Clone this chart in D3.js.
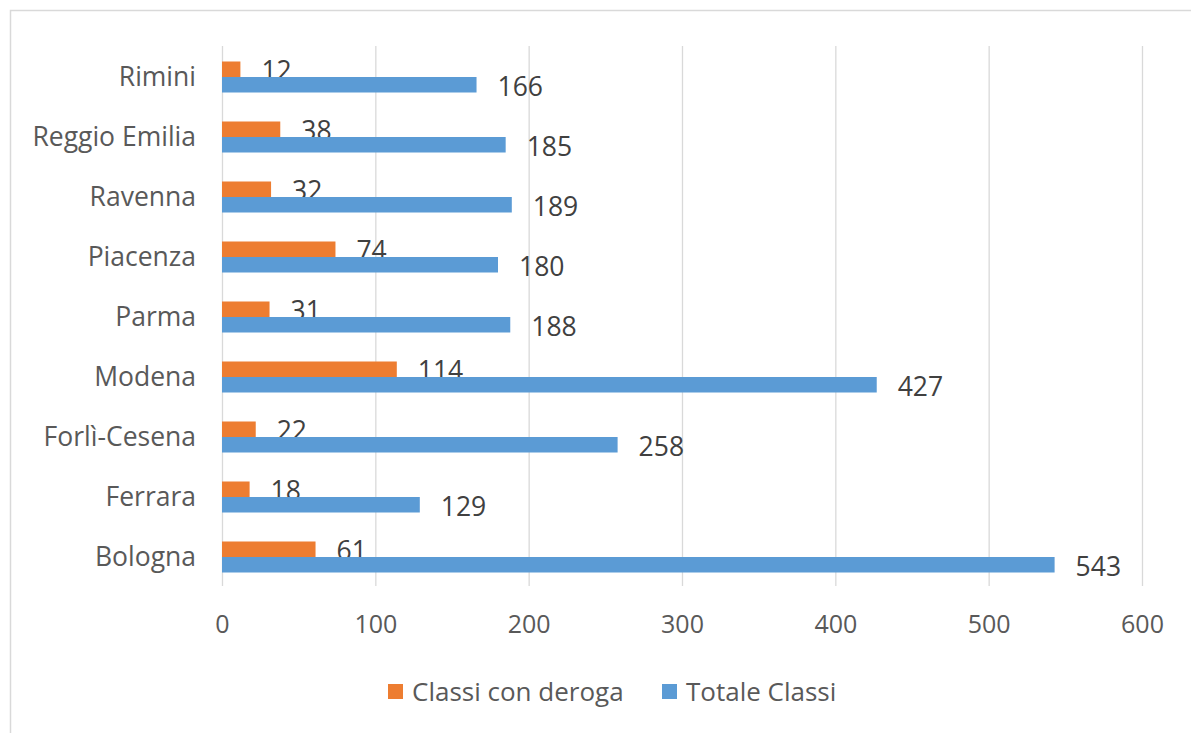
<!DOCTYPE html>
<html><head><meta charset="utf-8">
<script src="https://cdn.jsdelivr.net/npm/d3@7"></script>
<style>body{margin:0;background:#fff}svg{display:block}text{font-family:"Open Sans",sans-serif}</style>
</head><body><svg id="c" width="1191" height="733"></svg>
<script>
const categories = ["Rimini","Reggio Emilia","Ravenna","Piacenza","Parma","Modena","Forlì-Cesena","Ferrara","Bologna"];
const seriesNames = ["Classi con deroga","Totale Classi"];
const classiConDeroga = [12,38,32,74,31,114,22,18,61];
const totaleClassi = [166,185,189,180,188,427,258,129,543];
const xTicks = [0,100,200,300,400,500,600];
const colors = ["#ED7D31","#5B9BD5"];

const svg = d3.select("#c");
svg.append("rect").attr("x",10.5).attr("y",10.5).attr("width",1200).attr("height",760)
  .attr("fill","#fff").attr("stroke","#d9d9d9").attr("stroke-width",1.5);

const x = d3.scaleLinear().domain([0,600]).range([222,1142]);
const y = d3.scaleBand().domain(categories).range([46,586]);
const sub = d3.scaleBand().domain(seriesNames).range([15.5,46.5]);

svg.append("g").selectAll("line").data(xTicks).join("line")
  .attr("x1",d=>x(d)+0.5).attr("x2",d=>x(d)+0.5).attr("y1",46).attr("y2",586)
  .attr("stroke","#d9d9d9").attr("stroke-width",1.3);

const xa = svg.append("g").attr("transform","translate(0,624)")
  .call(d3.axisBottom(x).tickValues(xTicks).tickSize(0).tickPadding(0));
xa.select(".domain").remove();
xa.selectAll("text").attr("font-size",25).attr("fill","#595959")
  .attr("font-family","'Open Sans',sans-serif").attr("dy","0.36em");

const ya = svg.append("g").attr("transform","translate(196,0)")
  .call(d3.axisLeft(y).tickSize(0).tickPadding(0));
ya.select(".domain").remove();
ya.selectAll("text").attr("font-size",26.5).attr("fill","#595959")
  .attr("font-family","'Open Sans',sans-serif").attr("dy","0.38em");

const seriesData = [classiConDeroga, totaleClassi];
seriesData.forEach((vals,si)=>{
  const g = svg.append("g");
  g.selectAll("rect").data(vals).join("rect")
    .attr("x",x(0)).attr("y",(d,i)=>y(categories[i])+sub(seriesNames[si]))
    .attr("width",d=>x(d)-x(0)).attr("height",sub.bandwidth())
    .attr("fill",colors[si]);
  g.selectAll("text").data(vals).join("text")
    .attr("x",d=>x(d)+21).attr("y",(d,i)=>y(categories[i])+sub(seriesNames[si])+sub.bandwidth()/2+1.5)
    .attr("dy","0.36em").attr("font-size",26.5).attr("fill","#404040").text(d=>d);
});

const legX = [388,662];
const lg = svg.append("g");
seriesNames.forEach((s,i)=>{
  lg.append("rect").attr("x",legX[i]).attr("y",684).attr("width",15).attr("height",15).attr("fill",colors[i]);
  lg.append("text").attr("x",legX[i]+24).attr("y",691.5).attr("dy","0.36em")
    .attr("font-size",26).attr("fill","#595959").text(s);
});
</script></body></html>
